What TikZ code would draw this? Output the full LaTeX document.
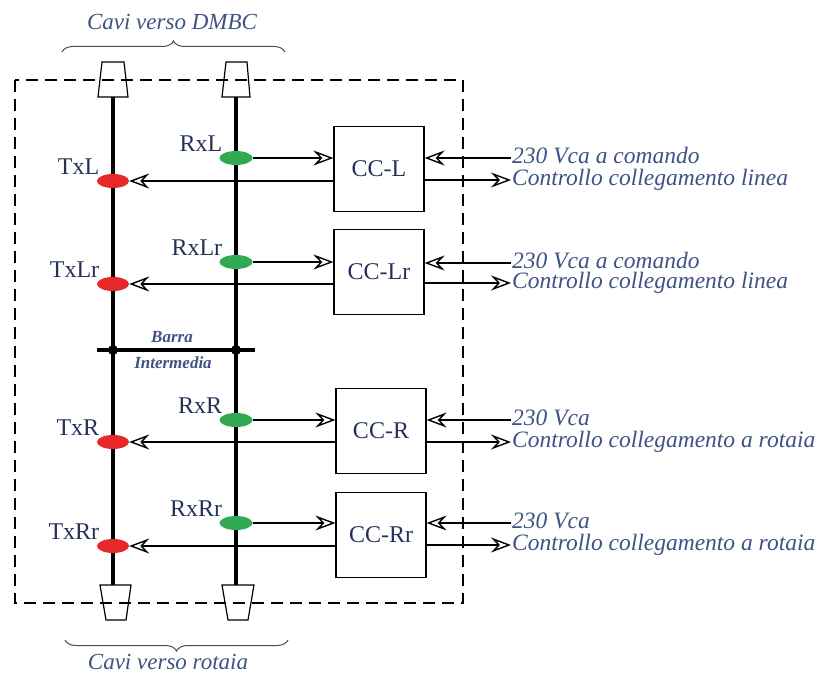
\documentclass[tikz,border=0pt]{standalone}
\usepackage{fontspec}
\setmainfont{Liberation Serif}
\usetikzlibrary{shapes.geometric,arrows.meta,decorations.pathreplacing}
\definecolor{navy}{RGB}{36,50,90}
\definecolor{steel}{RGB}{62,82,132}
\definecolor{txred}{RGB}{232,40,40}
\definecolor{rxgreen}{RGB}{50,170,84}
\tikzset{
  block/.style={rectangle, draw, line width=1.2pt, minimum width=90pt,
    minimum height=85pt, text=navy, font=\fontsize{24}{26}\selectfont},
  tx/.style={ellipse, fill=txred, minimum width=32pt, minimum height=14pt, inner sep=0pt},
  rx/.style={ellipse, fill=rxgreen, minimum width=33pt, minimum height=14pt, inner sep=0pt},
  lbl/.style={text=navy, inner sep=3pt, xshift=-4pt, yshift=-3pt, font=\fontsize{24}{26}\selectfont},
  conn/.style={draw, line width=1.4pt, -{Stealth[open, length=20pt, width=15pt, inset=7pt]}},
  bus/.style={draw, line width=4.5pt},
  plug/.style={draw, line width=1.2pt},
  note/.style={anchor=west, text=steel, inner sep=1pt, text height=14pt, text depth=4pt,
    font=\fontsize{23.5}{25}\selectfont\itshape},
  cavi/.style={text=steel, inner sep=1pt, font=\fontsize{23}{25}\selectfont\itshape},
  barra/.style={text=steel, inner sep=1pt, font=\fontsize{17}{19}\selectfont\bfseries\itshape},
  brace/.style={draw=black!70, line width=1pt, decorate}
}

\begin{document}
\begin{tikzpicture}[x=1pt, y=-1pt]
		\useasboundingbox (0,0) rectangle (816,674);
		% frame and cable plugs
		\draw[line width=1.5pt, dash pattern=on 12pt off 7pt] (15,80) rectangle (463,603);
		\draw[plug] (102,62) -- (124,62) -- (128,97) -- (98,97) -- cycle;
		\draw[plug] (226,62) -- (247,62) -- (250,97) -- (222,97) -- cycle;
		\draw[plug] (100,585) -- (131,585) -- (126,620) -- (106,620) -- cycle;
		\draw[plug] (222,585) -- (254,585) -- (248,620) -- (228,620) -- cycle;
		
		\coordinate (ltop) at (113,97);
		\coordinate (lbot) at (113,585);
		\coordinate (rtop) at (236,97);
		\coordinate (rbot) at (236,585);
		\coordinate (bleft) at (97,350);
		\coordinate (bright) at (255,350);
		\path [bus] (ltop) -- (lbot);
		\path [bus] (rtop) -- (rbot);
		\path [bus] (bleft) -- (bright);
		\fill (113,350) circle (5pt);
		\fill (236,350) circle (5pt);
		\node[barra] (barra) at (172,337) {Barra};
		\node[barra] (interm) at (173,363) {Intermedia};
		
		% braces
		\draw[brace, decoration={brace, amplitude=11pt}] (62,52) -- (285,52);
		\draw[brace, decoration={brace, amplitude=11pt}] (288,640) -- (65,640);
		\node[cavi] (dmbc) at (172,22) {Cavi verso DMBC};
		\node[cavi] (rotaia) at (168,662) {Cavi verso rotaia};
		
		% taps on the buses
		\node[tx, label={[lbl]above left:TxL}] (TxL) at (113,181) {};
		\node[tx, label={[lbl]above left:TxLr}] (TxLr) at (113,284) {};
		\node[tx, label={[lbl]above left:TxR}] (TxR) at (113,442) {};
		\node[tx, label={[lbl]above left:TxRr}] (TxRr) at (113,546) {};
		\node[rx, label={[lbl]above left:RxL}] (RxL) at (236,158) {};
		\node[rx, label={[lbl]above left:RxLr}] (RxLr) at (236,262) {};
		\node[rx, label={[lbl]above left:RxR}] (RxR) at (236,420) {};
		\node[rx, label={[lbl]above left:RxRr}] (RxRr) at (236,523) {};
		
		% control blocks
		\node[block] (CCL) at (379,169) {CC-L};
		\node[block] (CCLr) at (379,272) {CC-Lr};
		\node[block] (CCR) at (381,431) {CC-R};
		\node[block] (CCRr) at (381,535) {CC-Rr};
		
		\node[note] (cmdL) at (511,158) {230 Vca a comando};
		\node[note] (outL) at (511,180) {Controllo collegamento linea};
		\node[note] (cmdLr) at (511,263) {230 Vca a comando};
		\node[note] (outLr) at (511,283) {Controllo collegamento linea};
		\node[note] (cmdR) at (511,420) {230 Vca};
		\node[note] (outR) at (511,442) {Controllo collegamento a rotaia};
		\node[note] (cmdRr) at (511,523) {230 Vca};
		\node[note] (outRr) at (511,545) {Controllo collegamento a rotaia};
		
		\path [conn] (RxL) -- (RxL -| CCL.west);
		\path [conn] (TxL -| CCL.west) -- (TxL);
		\path [conn] (RxLr) -- (RxLr -| CCLr.west);
		\path [conn] (TxLr -| CCLr.west) -- (TxLr);
		\path [conn] (RxR) -- (RxR -| CCR.west);
		\path [conn] (TxR -| CCR.west) -- (TxR);
		\path [conn] (RxRr) -- (RxRr -| CCRr.west);
		\path [conn] (TxRr -| CCRr.west) -- (TxRr);
		
		\path [conn] (cmdL.west) -- (cmdL.west -| CCL.east);
		\path [conn] (outL.west -| CCL.east) -- (outL.west);
		\path [conn] (cmdLr.west) -- (cmdLr.west -| CCLr.east);
		\path [conn] (outLr.west -| CCLr.east) -- (outLr.west);
		\path [conn] (cmdR.west) -- (cmdR.west -| CCR.east);
		\path [conn] (outR.west -| CCR.east) -- (outR.west);
		\path [conn] (cmdRr.west) -- (cmdRr.west -| CCRr.east);
		\path [conn] (outRr.west -| CCRr.east) -- (outRr.west);
	\end{tikzpicture}
\end{document}
